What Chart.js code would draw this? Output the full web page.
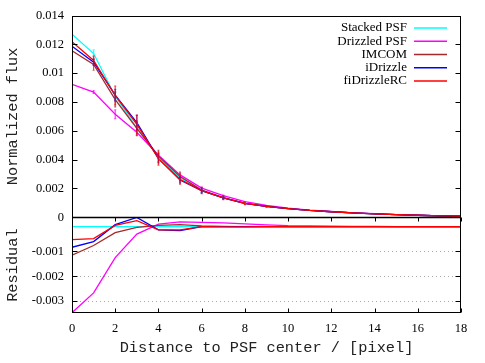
<!DOCTYPE html>
<html>
<head>
<meta charset="utf-8">
<script src="https://cdn.jsdelivr.net/npm/chart.js@4.4.1/dist/chart.umd.min.js"></script>
<style>
  body { margin: 0; background: #fff; }
  canvas { display: block; }
</style>
</head>
<body>
<canvas id="psf" width="485" height="363"></canvas>
<script>
// distance to PSF center, in pixels
var distance = [0, 1, 2, 3, 4, 5, 6, 7, 8, 9, 10, 11, 12, 13, 14, 15, 16, 17, 18];

// normalized flux (top panel)
var stackedFlux  = [0.01270, 0.01136, 0.00840, 0.00620, 0.00420, 0.00275, 0.00185, 0.00135, 0.00097, 0.00075, 0.00060, 0.00047, 0.00038, 0.00030, 0.00024, 0.00018, 0.00014, 0.00010, 0.00007];
var drizzledFlux = [0.00923, 0.00869, 0.00715, 0.00590, 0.00430, 0.00294, 0.00202, 0.00150, 0.00108, 0.00082, 0.00064, 0.00050, 0.00040, 0.00031, 0.00025, 0.00018, 0.00014, 0.00010, 0.00007];
var imcomFlux    = [0.01155, 0.01060, 0.00816, 0.00617, 0.00425, 0.00283, 0.00188, 0.00136, 0.00097, 0.00075, 0.00060, 0.00047, 0.00038, 0.00030, 0.00024, 0.00018, 0.00014, 0.00010, 0.00007];
var idrizzleFlux = [0.01187, 0.01076, 0.00848, 0.00657, 0.00407, 0.00259, 0.00185, 0.00135, 0.00097, 0.00075, 0.00060, 0.00047, 0.00038, 0.00030, 0.00024, 0.00018, 0.00014, 0.00010, 0.00007];
var rcFlux       = [0.01218, 0.01088, 0.00845, 0.00644, 0.00407, 0.00262, 0.00185, 0.00134, 0.00096, 0.00075, 0.00060, 0.00047, 0.00038, 0.00030, 0.00024, 0.00018, 0.00014, 0.00010, 0.00007];

// error bars on the flux curves
var stackedErr  = [0, 0.00025, 0.00030, 0.00030, 0.00020, 0.00015, 0.00010, 0.00008, 0.00005, 0, 0, 0, 0, 0, 0, 0, 0, 0, 0];
var drizzledErr = [0, 0.00010, 0.00030, 0.00020, 0.00012, 0.00010, 0.00006, 0.00004, 0, 0, 0, 0, 0, 0, 0, 0, 0, 0, 0];
var imcomErr    = [0, 0.00040, 0.00050, 0.00050, 0.00040, 0.00030, 0.00020, 0.00010, 0.00008, 0.00005, 0, 0, 0, 0, 0, 0, 0, 0, 0];
var idrizzleErr = [0, 0.00020, 0.00040, 0.00050, 0.00030, 0.00020, 0.00010, 0.00006, 0, 0, 0, 0, 0, 0, 0, 0, 0, 0, 0];
var rcErr       = [0, 0.00030, 0.00065, 0.00065, 0.00045, 0.00032, 0.00022, 0.00012, 0.00008, 0.00005, 0, 0, 0, 0, 0, 0, 0, 0, 0];

// residual against the stacked PSF (bottom panel)
var stackedRes  = [0, 0, 0, 0, 0, 0, 0, 0, 0, 0, 0, 0, 0, 0, 0, 0, 0, 0, 0];
var drizzledRes = [-0.00347, -0.00267, -0.00125, -0.00030, 0.00010, 0.00019, 0.00017, 0.00015, 0.00011, 0.00007, 0.00004, 0.00003, 0.00002, 0.00001, 0.00001, 0, 0, 0, 0];
var imcomRes    = [-0.00115, -0.00076, -0.00024, -0.00003, 0.00005, 0.00008, 0.00003, 0.00001, 0, 0, 0, 0, 0, 0, 0, 0, 0, 0, 0];
var idrizzleRes = [-0.00083, -0.00060, 0.00008, 0.00037, -0.00013, -0.00016, 0, 0, 0, 0, 0, 0, 0, 0, 0, 0, 0, 0, 0];
var rcRes       = [-0.00052, -0.00048, 0.00005, 0.00024, -0.00013, -0.00013, 0, -0.00001, -0.00001, 0, 0, 0, 0, 0, 0, 0, 0, 0, 0];

var names  = ['Stacked PSF', 'Drizzled PSF', 'IMCOM', 'iDrizzle', 'fiDrizzleRC'];
var colors = ['#00ffff', '#ff00ff', '#a52a2a', '#0000ff', '#ff0000'];

var xTicks = [0, 2, 4, 6, 8, 10, 12, 14, 16, 18];
var fluxTicks = [0, 0.002, 0.004, 0.006, 0.008, 0.01, 0.012, 0.014];
var fluxTickLabels = ['0', '0.002', '0.004', '0.006', '0.008', '0.01', '0.012', '0.014'];
var resTicks = [-0.001, -0.002, -0.003];
var resTickLabels = ['-0.001', '-0.002', '-0.003'];

var fluxSets = [stackedFlux, drizzledFlux, imcomFlux, idrizzleFlux, rcFlux];
var errSets = [stackedErr, drizzledErr, imcomErr, idrizzleErr, rcErr];
var resSets = [stackedRes, drizzledRes, imcomRes, idrizzleRes, rcRes];

var serif = { family: 'Liberation Serif', size: 12.5 };
var mono = { family: 'Liberation Mono', size: 15.3 };

function pts(vals) {
   return distance.map(function (d, i) { return { x: d, y: vals[i] }; });
}

var datasets = [];
for (var k = 0; k < names.length; k++) {
   datasets.push({
      label: names[k], data: pts(fluxSets[k]), err: errSets[k], yAxisID: 'yTop',
      borderColor: colors[k], borderWidth: 1.3, pointRadius: 0, tension: 0, order: 4 - k
   });
}
for (var k = 0; k < names.length; k++) {
   datasets.push({
      label: names[k] + ' residual', data: pts(resSets[k]), yAxisID: 'yRes',
      borderColor: colors[k], borderWidth: 1.3, pointRadius: 0, tension: 0, order: 4 - k
   });
}

var panelFrame = {
   id: 'panelFrame',
   beforeDatasetsDraw: function (chart) {
      var ctx = chart.ctx, a = chart.chartArea, yr = chart.scales.yRes;
      ctx.save();
      ctx.strokeStyle = '#a8a8a8';
      ctx.lineWidth = 1;
      ctx.setLineDash([1, 3]);
      resTicks.forEach(function (v) {
         var y = Math.round(yr.getPixelForValue(v)) + 0.5;
         ctx.beginPath(); ctx.moveTo(a.left, y); ctx.lineTo(a.right, y); ctx.stroke();
      });
      ctx.restore();
   },
   afterDatasetsDraw: function (chart) {
      var ctx = chart.ctx, a = chart.chartArea;
      var xs = chart.scales.x, yt = chart.scales.yTop, yr = chart.scales.yRes;
      ctx.save();

      // error bars
      ctx.beginPath(); ctx.rect(a.left, a.top, a.right - a.left, yt.bottom - a.top); ctx.clip();
      ctx.lineWidth = 1.2;
      chart.data.datasets.forEach(function (ds) {
         if (!ds.err) return;
         ctx.strokeStyle = ds.borderColor;
         ctx.globalAlpha = 0.75;
         ds.data.forEach(function (p, i) {
            var e = ds.err[i];
            if (!e) return;
            var x = xs.getPixelForValue(p.x);
            var y1 = yt.getPixelForValue(p.y - e), y2 = yt.getPixelForValue(p.y + e);
            ctx.beginPath();
            ctx.moveTo(x, y1); ctx.lineTo(x, y2);
            ctx.moveTo(x - 1, y1); ctx.lineTo(x + 1, y1);
            ctx.moveTo(x - 1, y2); ctx.lineTo(x + 1, y2);
            ctx.stroke();
         });
      });
      ctx.restore();
      ctx.save();

      // frame and the panel divider
      ctx.strokeStyle = '#000';
      ctx.lineWidth = 1;
      var L = Math.round(a.left) + 0.5, R = Math.round(a.right) - 0.5;
      var T = Math.round(a.top) + 0.5, B = Math.round(a.bottom) - 0.5;
      var M = Math.round(yt.bottom) + 0.5;
      ctx.strokeRect(L, T, R - L, B - T);
      ctx.lineWidth = 1.5;
      ctx.beginPath(); ctx.moveTo(L, M); ctx.lineTo(R, M); ctx.stroke();
      ctx.lineWidth = 1;

      // inward ticks
      ctx.beginPath();
      xTicks.forEach(function (v) {
         var x = Math.round(xs.getPixelForValue(v)) + 0.5;
         ctx.moveTo(x, M); ctx.lineTo(x, M + 4);
         ctx.moveTo(x, B); ctx.lineTo(x, B - 4);
      });
      fluxTicks.forEach(function (v) {
         var y = Math.round(yt.getPixelForValue(v)) + 0.5;
         ctx.moveTo(L, y); ctx.lineTo(L + 5, y);
         ctx.moveTo(R, y); ctx.lineTo(R - 5, y);
      });
      resTicks.forEach(function (v) {
         var y = Math.round(yr.getPixelForValue(v)) + 0.5;
         ctx.moveTo(L, y); ctx.lineTo(L + 5, y);
         ctx.moveTo(R, y); ctx.lineTo(R - 5, y);
      });
      ctx.stroke();

      // key, top right
      ctx.font = '13px "Liberation Serif"';
      ctx.textAlign = 'right';
      ctx.textBaseline = 'middle';
      for (var k = 0; k < names.length; k++) {
         var ly = a.top + 12.5 + k * 13.25;
         ctx.fillStyle = '#000';
         ctx.fillText(names[k], a.right - 54, ly);
         ctx.strokeStyle = colors[k];
         ctx.lineWidth = 1.3;
         ctx.beginPath(); ctx.moveTo(a.right - 47, ly); ctx.lineTo(a.right - 14, ly); ctx.stroke();
      }
      ctx.restore();
   }
};

new Chart(document.getElementById('psf'), {
   type: 'line',
   data: { datasets: datasets },
   plugins: [panelFrame],
   options: {
      responsive: false,
      animation: false,
      devicePixelRatio: 1,
      layout: { padding: { top: 12, right: 24, left: 0, bottom: 0 } },
      plugins: { legend: { display: false }, tooltip: { enabled: false } },
      scales: {
         x: {
            type: 'linear', min: 0, max: 18,
            afterBuildTicks: function (s) { s.ticks = xTicks.map(function (v) { return { value: v }; }); },
            afterFit: function (s) { s.height = 50; },
            ticks: { autoSkip: false, maxRotation: 0, padding: 8, color: '#000', font: serif,
                     callback: function (v) { return String(v); } },
            grid: { display: false, drawTicks: false },
            border: { display: false },
            title: { display: true, text: 'Distance to PSF center / [pixel]', color: '#222', font: mono,
                     padding: { top: 4, bottom: 6 } }
         },
         yRes: {
            type: 'linear', position: 'left', stack: 'panels', stackWeight: 1,
            min: -0.00348, max: 0.00038,
            afterBuildTicks: function (s) { s.ticks = resTicks.map(function (v) { return { value: v }; }); },
            afterFit: function (s) { s.width = 72; },
            ticks: { autoSkip: false, padding: 8, color: '#000', font: serif,
                     callback: function (v, i) { return resTickLabels[i]; } },
            grid: { display: false, drawTicks: false },
            border: { display: false },
            title: { display: true, text: 'Residual', color: '#222', font: mono, padding: { top: 4, bottom: 0 } }
         },
         yTop: {
            type: 'linear', position: 'left', stack: 'panels', stackWeight: 2.107,
            min: 0, max: 0.014,
            afterBuildTicks: function (s) { s.ticks = fluxTicks.map(function (v) { return { value: v }; }); },
            afterFit: function (s) { s.width = 72; },
            ticks: { autoSkip: false, padding: 8, color: '#000', font: serif,
                     callback: function (v, i) { return fluxTickLabels[i]; } },
            grid: { display: false, drawTicks: false },
            border: { display: false },
            title: { display: true, text: 'Normalized flux', color: '#222', font: mono, padding: { top: 4, bottom: 0 } }
         }
      }
   }
});
</script>
</body>
</html>
